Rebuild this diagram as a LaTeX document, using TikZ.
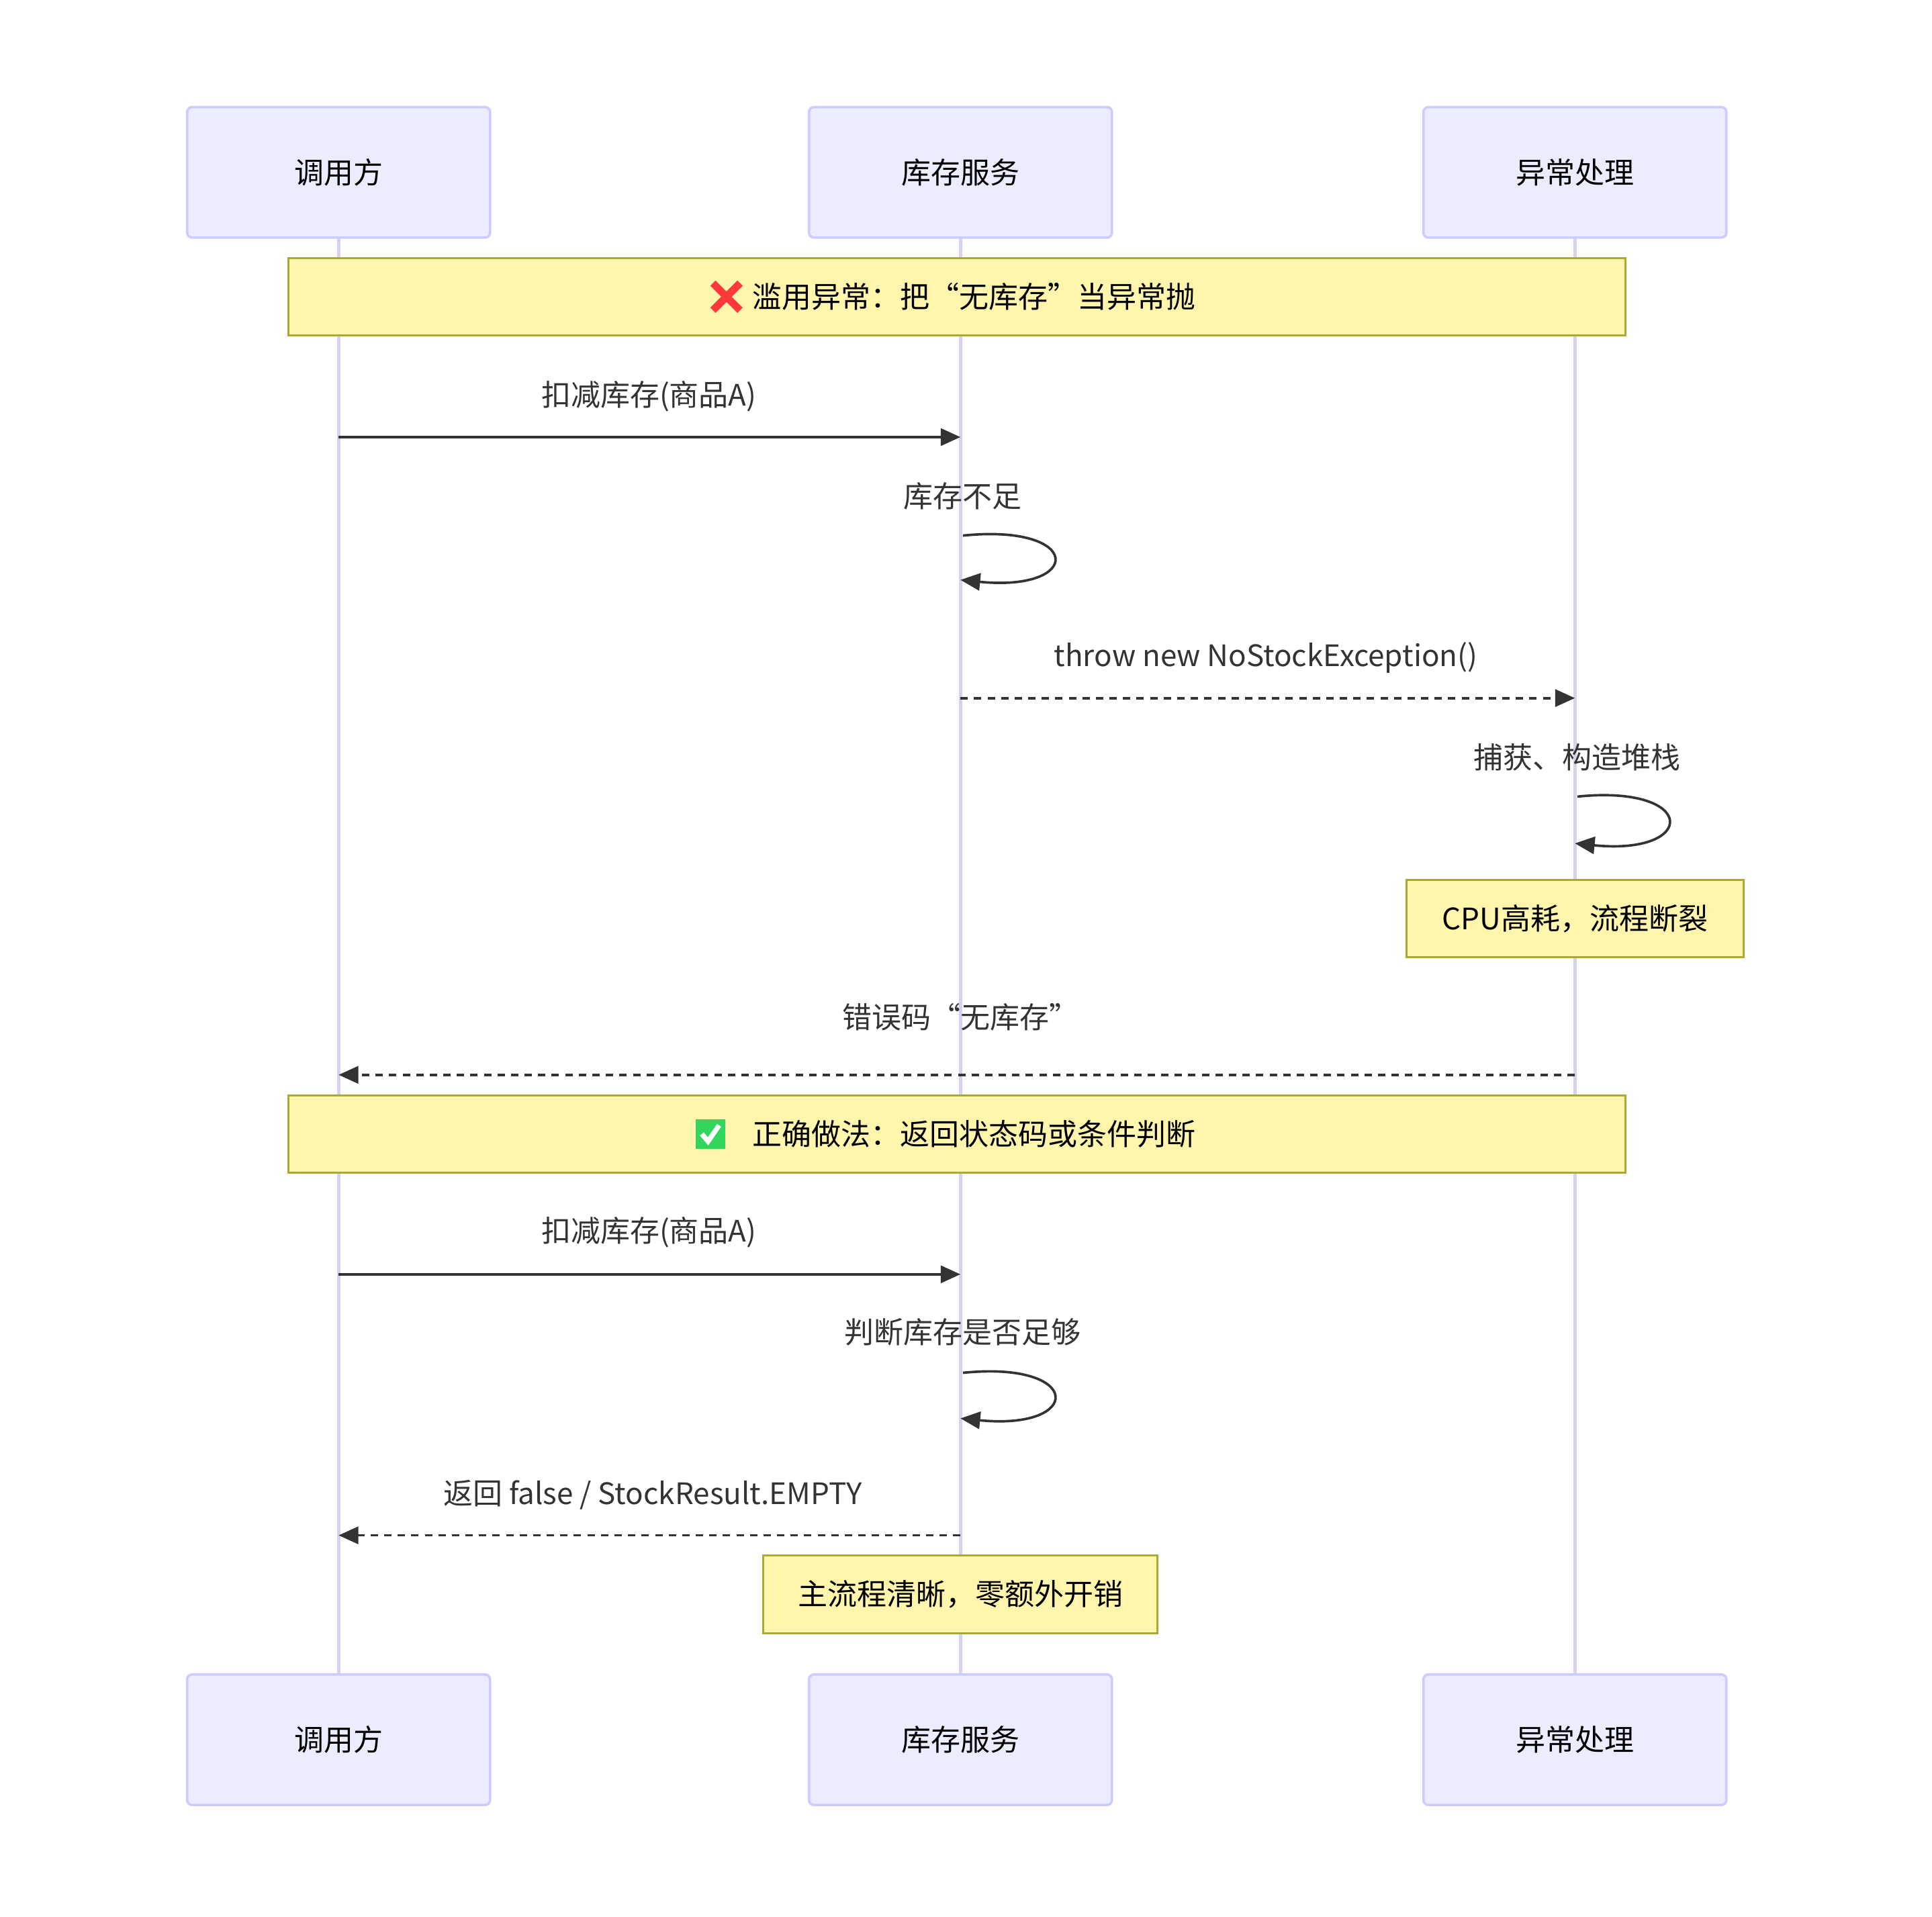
\documentclass[tikz,border=0pt]{standalone}
\usepackage{fontspec}
\setmainfont{Noto Sans CJK SC}
\usepackage{tikz}
\usetikzlibrary{positioning,arrows.meta}
\definecolor{actfill}{HTML}{ECECFF}
\definecolor{actline}{HTML}{CCCCFF}
\definecolor{life}{HTML}{D8D0EE}
\definecolor{notefill}{HTML}{FFF5AD}
\definecolor{noteline}{HTML}{AAAA33}
\definecolor{txt}{HTML}{333333}
\tikzset{
  actor/.style={draw=actline,fill=actfill,line width=1pt,rounded corners=2pt,minimum width=123pt,minimum height=53pt,font=\fontsize{12}{14}\selectfont},
  note/.style={draw=noteline,fill=notefill,line width=0.8pt,minimum height=31.5pt,font=\fontsize{12}{14}\selectfont},
  msg/.style={draw=txt,line width=1pt,-{Triangle[length=8pt,width=7pt]}},
  ret/.style={msg,dashed,dash pattern=on 3pt off 2.5pt},
  lbl/.style={text=txt,font=\fontsize{12}{14}\selectfont}
}
\begin{document}
\begin{tikzpicture}[x=0.5pt,y=-0.5pt]
                \useasboundingbox (0,0) rectangle (1569,1557);
                % lifelines
                \foreach \x in {275,780,1279}
                    \draw[life,line width=1.5pt] (\x,193) -- (\x,1360);
                \node[actor] (c1) at (275,140) {调用方};
                \node[actor] (s1) at (780,140) {库存服务};
                \node[actor] (e1) at (1279,140) {异常处理};
                \node[actor] (c2) at (275,1413) {调用方};
                \node[actor] (s2) at (780,1413) {库存服务};
                \node[actor] (e2) at (1279,1413) {异常处理};
                % notes
                \node[note,minimum width=543pt] (n1) at (777,241) {\hspace{14pt}滥用异常：把“无库存”当异常抛};
                \draw[red!70!pink,line width=3pt] (579,230) -- (601,252) (601,230) -- (579,252);
                \node[note,minimum width=137pt] (n2) at (1279,746) {CPU高耗，流程断裂};
                \node[note,minimum width=543pt] (n3) at (777,921) {\hspace{14pt}正确做法：返回状态码或条件判断};
                \fill[green!60!teal!80] (565,909) rectangle ++(24,24);
                \draw[white,line width=2pt] (570,921) -- (575,927) -- (584,914);
                \node[note,minimum width=160pt] (n4) at (780,1295) {主流程清晰，零额外开销};
                % messages
                \coordinate (a1) at (275,355); \coordinate (b1) at (780,355);
                \coordinate (a2) at (782,435); \coordinate (b2) at (780,471);
                \coordinate (a3) at (780,567); \coordinate (b3) at (1279,567);
                \coordinate (a4) at (1281,647); \coordinate (b4) at (1279,685);
                \coordinate (a5) at (1279,873); \coordinate (b5) at (275,873);
                \coordinate (a6) at (275,1035); \coordinate (b6) at (780,1035);
                \coordinate (a7) at (782,1115); \coordinate (b7) at (780,1152);
                \coordinate (a8) at (780,1247); \coordinate (b8) at (275,1247);
                \draw[msg] (a1) -- (b1);
                \draw[msg] (a2) .. controls (880,425) and (880,481) .. (b2);
                \draw[ret] (a3) -- (b3);
                \draw[msg] (a4) .. controls (1379,637) and (1379,695) .. (b4);
                \draw[ret] (a5) -- (b5);
                \draw[msg] (a6) -- (b6);
                \draw[msg] (a7) .. controls (880,1105) and (880,1162) .. (b7);
                \draw[ret] (a8) -- (b8);
                % labels
                \node[lbl] at (527,322) {扣减库存(商品A)};
                \node[lbl] at (782,403) {库存不足};
                \node[lbl] at (1028,534) {throw new NoStockException()};
                \node[lbl] at (1281,615) {捕获、构造堆栈};
                \node[lbl] at (780,826) {错误码“无库存”};
                \node[lbl] at (527,1001) {扣减库存(商品A)};
                \node[lbl] at (782,1082) {判断库存是否足够};
                \node[lbl] at (530,1214) {返回 false / StockResult.EMPTY};
\end{tikzpicture}
\end{document}
